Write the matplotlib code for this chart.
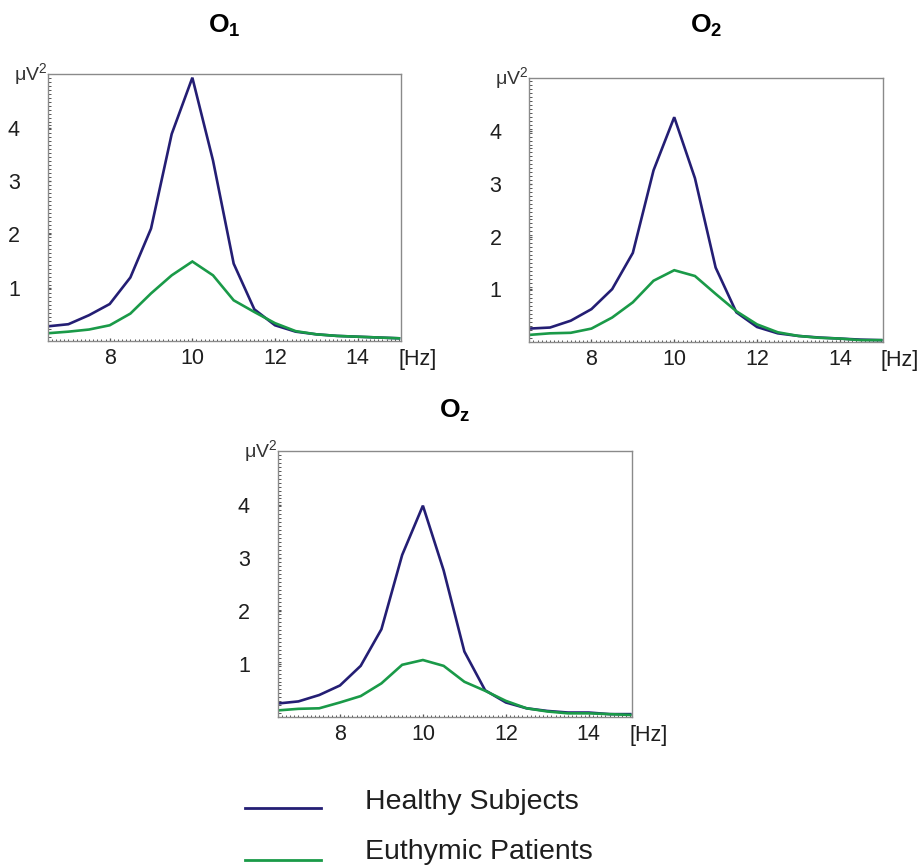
import numpy as np
import matplotlib
matplotlib.use("Agg")
from matplotlib import pyplot as plt
from matplotlib.ticker import MultipleLocator, NullFormatter
from matplotlib.lines import Line2D

plt.rcParams['font.family'] = ['Liberation Sans', 'DejaVu Sans']
plt.rcParams['mathtext.fontset'] = 'custom'
plt.rcParams['mathtext.rm'] = 'Liberation Sans'
plt.rcParams['mathtext.it'] = 'Liberation Sans'
plt.rcParams['mathtext.bf'] = 'Liberation Sans:bold'

# Frequency bins, Hz
freqs = [6.5, 7.0, 7.5, 8.0, 8.5, 9.0, 9.5, 10.0, 10.5, 11.0,
         11.5, 12.0, 12.5, 13.0, 13.5, 14.0, 14.5, 15.0]

# Spectral power, uV^2, per occipital lead
o1_healthy = [0.27, 0.31, 0.48, 0.69, 1.19, 2.11, 3.89, 4.95, 3.39, 1.45,
              0.59, 0.29, 0.17, 0.12, 0.09, 0.075, 0.06, 0.045]
o1_euthymic = [0.14, 0.17, 0.21, 0.29, 0.51, 0.89, 1.23, 1.49, 1.23, 0.76,
               0.54, 0.33, 0.18, 0.12, 0.09, 0.075, 0.06, 0.045]

o2_healthy = [0.25, 0.27, 0.40, 0.62, 1.00, 1.69, 3.26, 4.27, 3.11, 1.41,
              0.56, 0.28, 0.16, 0.11, 0.08, 0.06, 0.04, 0.03]
o2_euthymic = [0.13, 0.16, 0.17, 0.25, 0.46, 0.75, 1.16, 1.36, 1.25, 0.91,
               0.58, 0.33, 0.18, 0.11, 0.075, 0.06, 0.03, 0.03]

oz_healthy = [0.26, 0.30, 0.42, 0.60, 0.97, 1.66, 3.06, 3.99, 2.77, 1.24,
              0.51, 0.28, 0.17, 0.12, 0.09, 0.09, 0.06, 0.06]
oz_euthymic = [0.13, 0.16, 0.17, 0.28, 0.40, 0.64, 0.99, 1.08, 0.97, 0.67,
               0.50, 0.31, 0.17, 0.11, 0.075, 0.075, 0.06, 0.045]

x_ticks = [8, 10, 12, 14]
y_ticks = [1, 2, 3, 4]
group_names = ["Healthy Subjects", "Euthymic Patients"]

HEALTHY_COLOR = '#241e74'
EUTHYMIC_COLOR = '#1a9a48'
FRAME_COLOR = '#8a8a8a'
TEXT_COLOR = '#1e1e1e'


def spectrum_panel(fig, rect, sub, title_y, healthy, euthymic):
    ax = fig.add_axes(rect)
    ax.plot(freqs, healthy, color=HEALTHY_COLOR, lw=1.9, solid_joinstyle='miter')
    ax.plot(freqs, euthymic, color=EUTHYMIC_COLOR, lw=1.9, solid_joinstyle='miter')
    ax.set_xlim(6.5, 15.05)
    ax.set_ylim(0, 5.02)
    for spine in ax.spines.values():
        spine.set_color(FRAME_COLOR)
        spine.set_linewidth(1.0)

    ax.set_xticks(x_ticks)
    ax.set_yticks(y_ticks)
    ax.xaxis.set_minor_locator(MultipleLocator(0.1))
    ax.yaxis.set_minor_locator(MultipleLocator(0.075))
    ax.yaxis.set_minor_formatter(NullFormatter())
    ax.tick_params(which='both', direction='in', color='#555555',
                   top=False, right=False)
    ax.tick_params(which='major', length=2.5, width=0.9, labelsize=15.5,
                   labelcolor=TEXT_COLOR)
    ax.tick_params(which='minor', length=1.8, width=0.7)
    ax.tick_params(axis='x', which='major', pad=5)
    ax.tick_params(axis='y', which='major', pad=20)

    ax.text(-0.002, 1.0, r'$\mathregular{\mu V^2}$', transform=ax.transAxes,
            ha='right', va='center', fontsize=14, color='#333333')
    ax.text(0.993, -0.07, '[Hz]', transform=ax.transAxes,
            ha='left', va='center', fontsize=15.5, color=TEXT_COLOR)

    # Lead name above the panel
    cx = rect[0] + rect[2] / 2
    fig.text(cx, title_y, r'$\mathbf{O_{%s}}$' % sub, ha='center',
             va='baseline', fontsize=19, color='black')
    return ax


fig = plt.figure(figsize=(9.23, 8.68), dpi=100)

spectrum_panel(fig, [0.0517, 0.6075, 0.3828, 0.3073], '1', 1 - 33 / 868,
               o1_healthy, o1_euthymic)
spectrum_panel(fig, [0.5735, 0.6063, 0.3835, 0.3041], '2', 1 - 33 / 868,
               o2_healthy, o2_euthymic)
spectrum_panel(fig, [0.3009, 0.1736, 0.3842, 0.3068], 'z', 1 - 418 / 868,
               oz_healthy, oz_euthymic)

# Group key along the bottom
key_rows = [(0.0691, 0.076, HEALTHY_COLOR), (0.0092, 0.0184, EUTHYMIC_COLOR)]
for (line_y, text_y, color), name in zip(key_rows, group_names):
    fig.add_artist(Line2D([0.2655, 0.3478], [line_y, line_y], color=color, lw=2.0))
    fig.text(0.3955, text_y, name, ha='left', va='center',
             fontsize=20.5, color=TEXT_COLOR)

fig.savefig('out.png', dpi=100)
